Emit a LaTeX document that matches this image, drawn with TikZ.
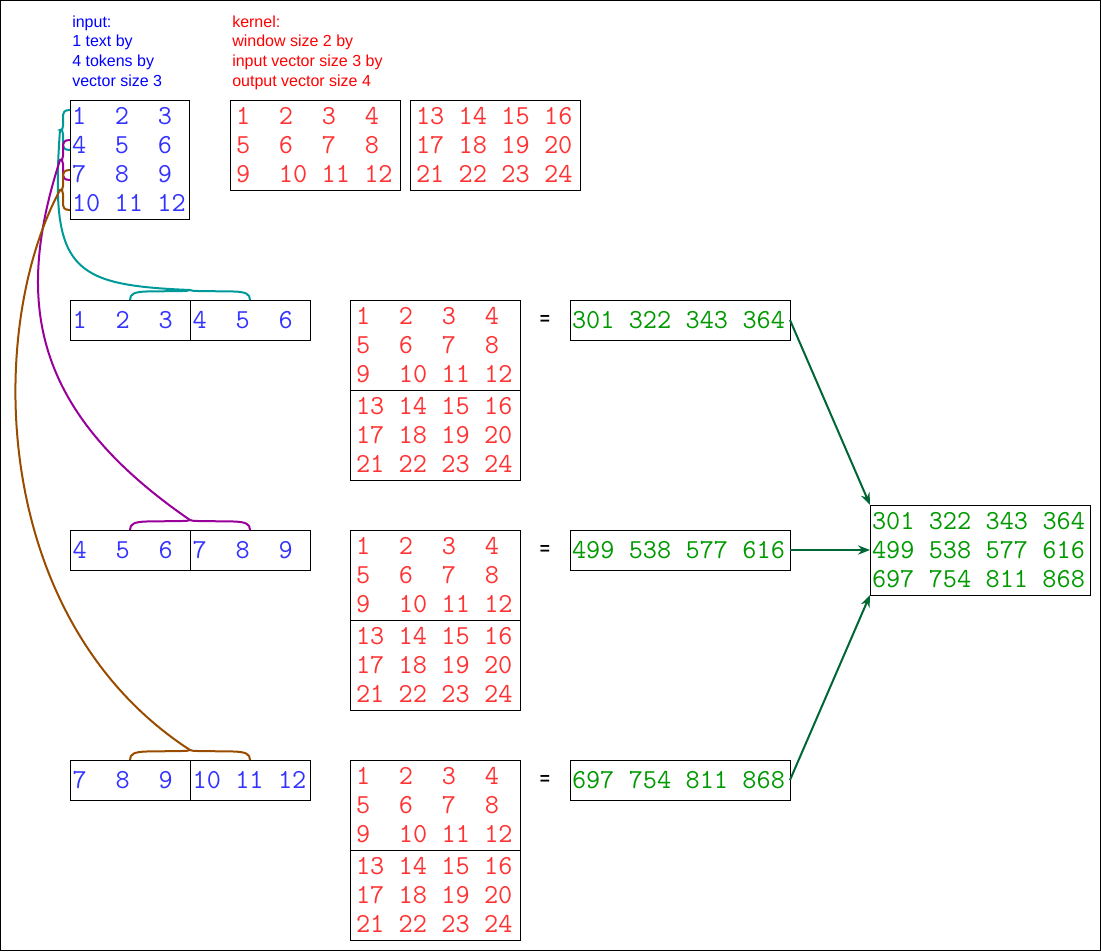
\documentclass[tikz,border=0pt]{standalone}
\usepackage{fontspec}
\setmainfont{Liberation Sans}
\usetikzlibrary{positioning,arrows.meta}

\definecolor{numblue}{HTML}{3333FF}
\definecolor{numred}{HTML}{FF3333}
\definecolor{numgreen}{HTML}{009900}
\definecolor{tealline}{HTML}{009999}
\definecolor{purpleline}{HTML}{990099}
\definecolor{brownline}{HTML}{994C00}
\definecolor{arrgreen}{HTML}{006633}

% one fixed character cell of the typewriter font
\newcommand{\gap}{\hspace{0.525em}}

\begin{document}
\begin{tikzpicture}[x=0.75pt, y=-0.75pt,
box/.style = {rectangle, draw=black, line width=0.75pt, outer sep=0pt, align=left,
  font=\ttfamily\fontsize{20.6}{21.75}\selectfont},
inbox/.style = {box, text=numblue, inner xsep=1.5pt, text width=86.25pt, minimum height=89.25pt},
kbox/.style = {box, text=numred, inner xsep=4.5pt, text width=118.5pt, minimum height=67.5pt},
winbox/.style = {box, text=numblue, inner xsep=2pt, text width=86pt, minimum height=30pt},
outbox/.style = {box, text=numgreen, inner xsep=1.5pt, text width=162pt, minimum height=30pt},
resbox/.style = {outbox, minimum height=67.5pt},
note/.style = {align=left, inner sep=0pt, anchor=north west, font=\fontsize{12}{14.7}\selectfont},
eqsign/.style = {inner sep=0pt, font=\bfseries\fontsize{13}{15}\selectfont},
brace/.style = {line width=1.5pt},
arr/.style = {arrgreen, line width=1.5pt, -{Stealth[length=9pt,width=7pt]}}]

\useasboundingbox (0,0) rectangle (1101,951);
\draw [line width=0.75pt] (0.5,0.5) rectangle (1100.5,950.5);

% labels
\node [note, text=blue] (inlabel) at (72,15.5) {input:\\1 text by\\4 tokens by\\vector size 3};
\node [note, text=red] (klabel) at (232,15.5) {kernel:\\window size 2 by\\input vector size 3 by\\output vector size 4};

% input and kernel
\node [inbox, anchor=north west] (input) at (70,100)
  {1\gap\gap2\gap\gap3\\4\gap\gap5\gap\gap6\\7\gap\gap8\gap\gap9\\10\gap11\gap12};
\node [kbox, anchor=north west] (ktop1) at (230,100)
  {1\gap\gap2\gap\gap3\gap\gap4\\5\gap\gap6\gap\gap7\gap\gap8\\9\gap\gap10\gap11\gap12};
\node [kbox, anchor=north west] (ktop2) at (410,100)
  {13\gap14\gap15\gap16\\17\gap18\gap19\gap20\\21\gap22\gap23\gap24};

% window 1
\node [winbox, anchor=north west] (w1a) at (70,300) {1\gap\gap2\gap\gap3};
\node [winbox, right=0pt of w1a] (w1b) {4\gap\gap5\gap\gap6};
\node [kbox, anchor=north west] (k1a) at (350,300)
  {1\gap\gap2\gap\gap3\gap\gap4\\5\gap\gap6\gap\gap7\gap\gap8\\9\gap\gap10\gap11\gap12};
\node [kbox, below=0pt of k1a] (k1b) {13\gap14\gap15\gap16\\17\gap18\gap19\gap20\\21\gap22\gap23\gap24};
\node [eqsign] (eq1) at (545,320) {=};
\node [outbox, anchor=north west] (o1) at (570,300) {301\gap322\gap343\gap364};

% window 2
\node [winbox, anchor=north west] (w2a) at (70,530) {4\gap\gap5\gap\gap6};
\node [winbox, right=0pt of w2a] (w2b) {7\gap\gap8\gap\gap9};
\node [kbox, anchor=north west] (k2a) at (350,530)
  {1\gap\gap2\gap\gap3\gap\gap4\\5\gap\gap6\gap\gap7\gap\gap8\\9\gap\gap10\gap11\gap12};
\node [kbox, below=0pt of k2a] (k2b) {13\gap14\gap15\gap16\\17\gap18\gap19\gap20\\21\gap22\gap23\gap24};
\node [eqsign] (eq2) at (545,550) {=};
\node [outbox, anchor=north west] (o2) at (570,530) {499\gap538\gap577\gap616};

% window 3
\node [winbox, anchor=north west] (w3a) at (70,760) {7\gap\gap8\gap\gap9};
\node [winbox, right=0pt of w3a] (w3b) {10\gap11\gap12};
\node [kbox, anchor=north west] (k3a) at (350,760)
  {1\gap\gap2\gap\gap3\gap\gap4\\5\gap\gap6\gap\gap7\gap\gap8\\9\gap\gap10\gap11\gap12};
\node [kbox, below=0pt of k3a] (k3b) {13\gap14\gap15\gap16\\17\gap18\gap19\gap20\\21\gap22\gap23\gap24};
\node [eqsign] (eq3) at (545,780) {=};
\node [outbox, anchor=north west] (o3) at (570,760) {697\gap754\gap811\gap868};

% result
\node [resbox, anchor=north west] (res) at (870,505)
  {301\gap322\gap343\gap364\\499\gap538\gap577\gap616\\697\gap754\gap811\gap868};

% bracket tips
\coordinate (tipA) at (60,130);
\coordinate (tipB) at (60,160);
\coordinate (tipC) at (60,190);
\coordinate (top1) at (190,290);
\coordinate (top2) at (190,520);
\coordinate (top3) at (190,750);

% brackets on the input
\draw [brace, tealline] (70,110) .. controls (64,110) and (63,112) .. (63,118) -- (63,126)
  .. controls (63,129) and (62,130) .. (tipA) .. controls (62,130) and (63,131) .. (63,134)
  -- (63,142) .. controls (63,148) and (64,150) .. (70,150);
\draw [brace, purpleline] (70,140) .. controls (64,140) and (63,142) .. (63,148) -- (63,156)
  .. controls (63,159) and (62,160) .. (tipB) .. controls (62,160) and (63,161) .. (63,164)
  -- (63,172) .. controls (63,178) and (64,180) .. (70,180);
\draw [brace, brownline] (70,170) .. controls (64,170) and (63,172) .. (63,178) -- (63,186)
  .. controls (63,189) and (62,190) .. (tipC) .. controls (62,190) and (63,191) .. (63,194)
  -- (63,202) .. controls (63,208) and (64,210) .. (70,210);

% brackets on the windows
\draw [brace, tealline] (w1a.north) .. controls (130,294) and (134,292) .. (146,291.5) -- (182,291)
  .. controls (187,291) and (189,290.5) .. (top1) .. controls (191,290.5) and (193,291) .. (198,291)
  -- (234,291.5) .. controls (246,292) and (250,294) .. (w1b.north);
\draw [brace, purpleline] (w2a.north) .. controls (130,524) and (134,522) .. (146,521.5) -- (182,521)
  .. controls (187,521) and (189,520.5) .. (top2) .. controls (191,520.5) and (193,521) .. (198,521)
  -- (234,521.5) .. controls (246,522) and (250,524) .. (w2b.north);
\draw [brace, brownline] (w3a.north) .. controls (130,754) and (134,752) .. (146,751.5) -- (182,751)
  .. controls (187,751) and (189,750.5) .. (top3) .. controls (191,750.5) and (193,751) .. (198,751)
  -- (234,751.5) .. controls (246,752) and (250,754) .. (w3b.north);

% links
\draw [brace, tealline] (tipA) .. controls (50,270) and (70,285) .. (top1);
\draw [brace, purpleline] (tipB) .. controls (15,300) and (30,410) .. (top2);
\draw [brace, brownline] (tipC) .. controls (-15,330) and (-10,620) .. (top3);

% outputs to result
\draw [arr] (o1.east) -- (res.north west);
\draw [arr] (o2.east) -- (res.west);
\draw [arr] (o3.east) -- (res.south west);

\end{tikzpicture}
\end{document}
